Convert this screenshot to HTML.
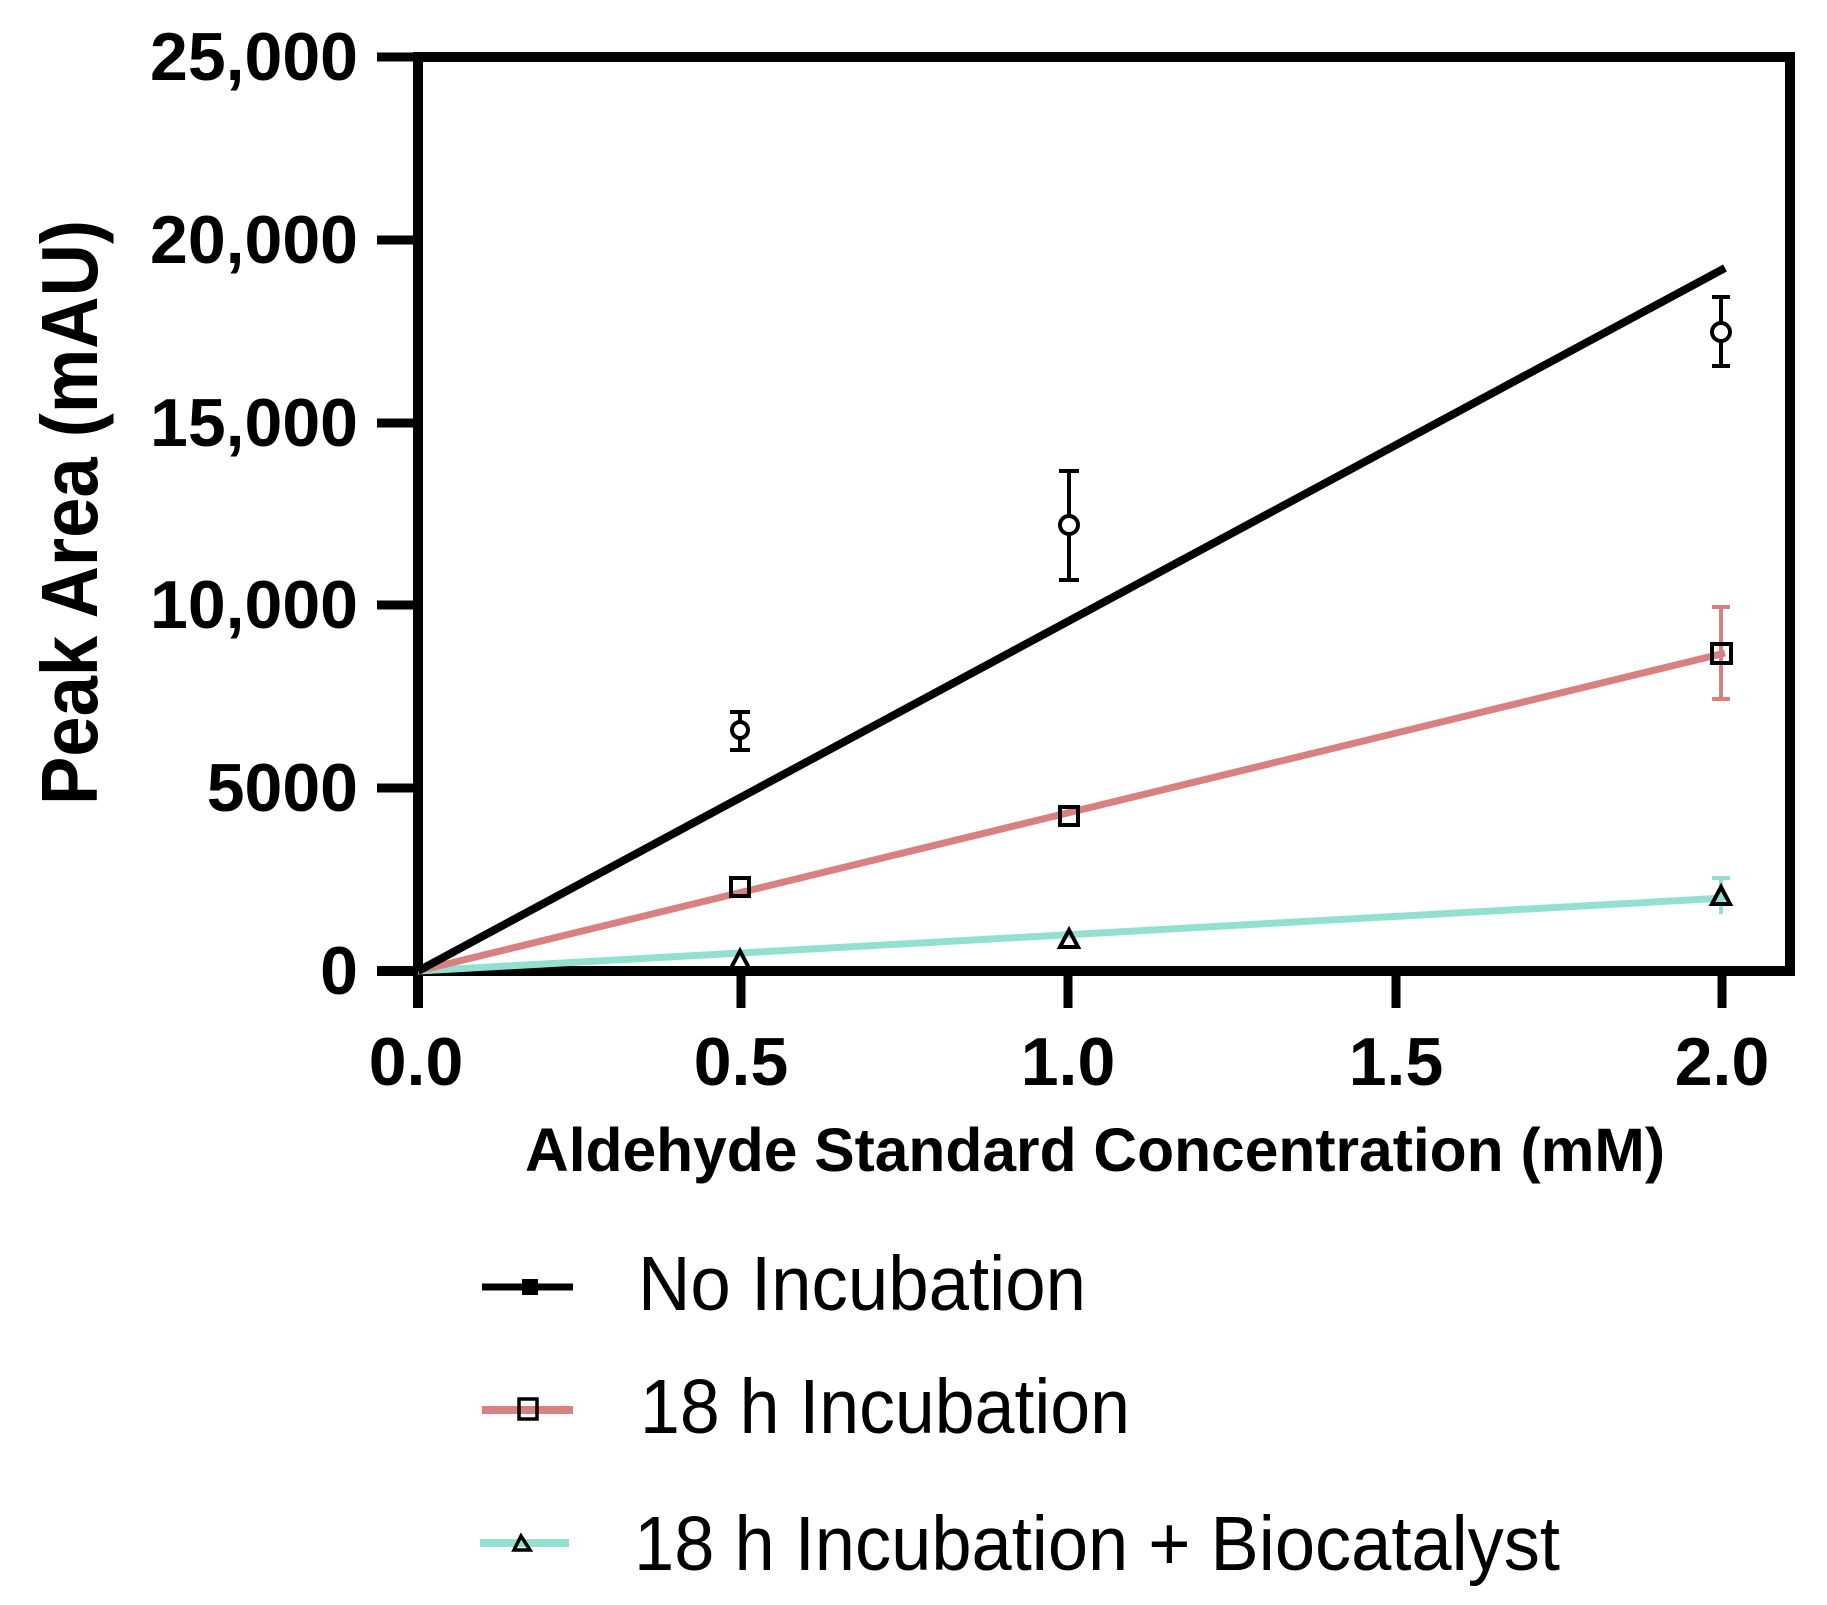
<!DOCTYPE html>
<html><head><meta charset="utf-8"><style>html,body{margin:0;padding:0;background:#fff}svg{display:block}</style></head>
<body>
<svg width="1827" height="1605" viewBox="0 0 1827 1605" xmlns="http://www.w3.org/2000/svg" font-family="Liberation Sans, Arial, sans-serif">
<rect width="1827" height="1605" fill="#fff"/>
<polyline points="418,57 1790,57 1790,971" fill="none" stroke="#000" stroke-width="10"/>
<line x1="418" y1="52" x2="418" y2="1008" stroke="#000" stroke-width="10"/>
<line x1="377" y1="971" x2="1795" y2="971" stroke="#000" stroke-width="10"/>
<g stroke="#000" stroke-width="9">
<line x1="377" y1="57" x2="418" y2="57"/><line x1="377" y1="240" x2="418" y2="240"/><line x1="377" y1="423" x2="418" y2="423"/><line x1="377" y1="605" x2="418" y2="605"/><line x1="377" y1="788" x2="418" y2="788"/>
<line x1="741" y1="971" x2="741" y2="1008"/><line x1="1068" y1="971" x2="1068" y2="1008"/><line x1="1396" y1="971" x2="1396" y2="1008"/><line x1="1722" y1="971" x2="1722" y2="1008"/>
</g>
<g font-size="68" font-weight="bold" text-anchor="end">
<text x="358" y="80">25,000</text><text x="358" y="263">20,000</text><text x="358" y="446">15,000</text><text x="358" y="628">10,000</text><text x="358" y="811">5000</text><text x="358" y="994">0</text>
</g>
<g font-size="68" font-weight="bold" text-anchor="middle">
<text x="416" y="1085">0.0</text><text x="741" y="1085">0.5</text><text x="1068" y="1085">1.0</text><text x="1396" y="1085">1.5</text><text x="1722" y="1085">2.0</text>
</g>
<text x="525" y="1171" font-size="61" font-weight="bold" textLength="1140" lengthAdjust="spacingAndGlyphs">Aldehyde Standard Concentration (mM)</text>
<text transform="translate(97,805) rotate(-90)" font-size="80" font-weight="bold" textLength="585" lengthAdjust="spacingAndGlyphs">Peak Area (mAU)</text>
<line x1="418" y1="971" x2="1725" y2="898" stroke="#93e0d0" stroke-width="7"/>
<line x1="418" y1="971" x2="1725" y2="653" stroke="#d98080" stroke-width="7"/>
<line x1="418" y1="971" x2="1725" y2="268" stroke="#000" stroke-width="8"/>
<g stroke="#000" stroke-width="4" fill="#fff">
<line x1="740" y1="712" x2="740" y2="750"/><line x1="730" y1="712" x2="750" y2="712"/><line x1="730" y1="750" x2="750" y2="750"/>
<line x1="1069" y1="471" x2="1069" y2="580"/><line x1="1059" y1="471" x2="1079" y2="471"/><line x1="1059" y1="580" x2="1079" y2="580"/>
<line x1="1721" y1="297" x2="1721" y2="366"/><line x1="1712" y1="297" x2="1730" y2="297"/><line x1="1712" y1="366" x2="1730" y2="366"/>
<circle cx="740" cy="730" r="8"/><circle cx="1069" cy="525" r="9"/><circle cx="1721" cy="332" r="9"/>
</g>
<g stroke="#d98080" stroke-width="4">
<line x1="1721" y1="607" x2="1721" y2="699"/><line x1="1712" y1="607" x2="1730" y2="607"/><line x1="1712" y1="699" x2="1730" y2="699"/>
</g>
<g stroke="#93e0d0" stroke-width="4">
<line x1="1721" y1="878" x2="1721" y2="914"/><line x1="1712" y1="878" x2="1730" y2="878"/>
</g>
<g stroke="#000" stroke-width="4" fill="none">
<rect x="731" y="878" width="18" height="18"/><rect x="1060" y="807" width="18" height="18"/><rect x="1712" y="644" width="19" height="19"/>
<polygon points="740,951 731,968 749,968"/><polygon points="1069,930 1060,947 1078,947"/><polygon points="1721,887 1712,904 1730,904"/>
</g>
<line x1="482" y1="1287" x2="573" y2="1287" stroke="#000" stroke-width="7"/>
<rect x="522" y="1279" width="16" height="16" fill="#000"/>
<line x1="482" y1="1410" x2="573" y2="1410" stroke="#d98080" stroke-width="8"/>
<rect x="519" y="1399" width="18" height="20" fill="none" stroke="#000" stroke-width="3.5"/>
<line x1="480" y1="1543" x2="569" y2="1543" stroke="#93e0d0" stroke-width="8"/>
<polygon points="521,1536 514,1550 530,1550" fill="none" stroke="#000" stroke-width="3.5"/>
<g font-size="77">
<text x="638" y="1310" textLength="448" lengthAdjust="spacingAndGlyphs">No Incubation</text>
<text x="640" y="1433" textLength="490" lengthAdjust="spacingAndGlyphs">18 h Incubation</text>
<text x="634" y="1570" textLength="926" lengthAdjust="spacingAndGlyphs">18 h Incubation + Biocatalyst</text>
</g>
</svg>
</body></html>
